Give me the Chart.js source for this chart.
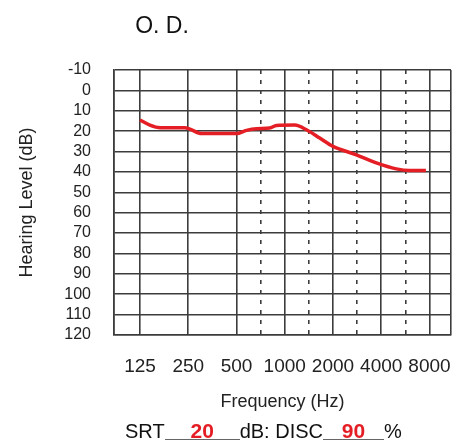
<!DOCTYPE html>
<html>
<head>
<meta charset="utf-8">
<script src="https://cdn.jsdelivr.net/npm/chart.js@4"></script>
<style>
  body { margin: 0; background: #fff; }
  #wrap { position: relative; width: 471px; height: 448px; }
  #chart { position: absolute; left: 0; top: 0; }
  .lbl { position: absolute; font-family: 'Liberation Sans', Arial, sans-serif; color: #111; white-space: nowrap; }
  #title { left: 0; width: 324px; top: 12px; text-align: center; font-size: 23px; }
  #srt { left: 125px; top: 420px; font-size: 20px; }
  .blank { display: inline-block; text-align: center; color: #e41e24; font-weight: bold; font-size: 21px;
           border-bottom: 1px solid #666; line-height: 17px; }
</style>
</head>
<body>
<div id="wrap">
  <canvas id="chart" width="471" height="448"></canvas>
  <div class="lbl" id="title">O. D.</div>
  <div class="lbl" id="srt"></div>
</div>
<script>
// 청력 데이터 (주파수 Hz / 청력 dB)
var freqs = [125, 144, 167, 238, 256, 303, 500, 577, 667, 806, 888, 1155, 1365, 1653, 2000, 2797, 3728, 4966, 6000, 7600];
var levels = [14.5, 17, 18.3, 18.3, 19, 21.2, 21.2, 19.6, 18.8, 18.5, 17.2, 17, 19.3, 23.4, 27.5, 31.6, 35.6, 38.5, 39.3, 39.3];

// 축 눈금
var octaveTicks = [125, 250, 500, 1000, 2000, 4000, 8000];
var halfTicks = [707, 1414, 2828, 5657];
var xMin = 86, xMax = 10900;
var yMin = -10, yMax = 120;

var srtValue = '20';
var discValue = '90';

document.getElementById('srt').innerHTML = 'SRT<span class="blank" style="width:75px">' + srtValue +
    '</span>dB: DISC<span class="blank" style="width:61px">' + discValue + '</span>%';

var font = "'Liberation Sans', Arial, sans-serif";
var gridColor = '#3c3c3c';

var points = freqs.map(function (f, i) { return { x: f, y: levels[i] }; });

var ctx = document.getElementById('chart').getContext('2d');
var chart = new Chart(ctx, {
    type: 'line',
    data: {
        datasets: [{
            data: points,
            borderColor: 'rgb(228, 30, 36)',
            borderWidth: 3.5,
            pointRadius: 0,
            cubicInterpolationMode: 'monotone',
            fill: false
        }]
    },
    options: {
        responsive: false,
        animation: false,
        layout: { padding: { top: 70, right: 19, left: 16, bottom: 31 } },
        plugins: { legend: { display: false }, tooltip: { enabled: false } },
        scales: {
            x: {
                type: 'logarithmic',
                min: xMin,
                max: xMax,
                afterBuildTicks: function (scale) {
                    var all = [xMin].concat(octaveTicks, halfTicks, [xMax]).sort(function (a, b) { return a - b; });
                    scale.ticks = all.map(function (v) { return { value: v }; });
                },
                afterFit: function (scale) { scale.height = 448 - 335 - 31; },
                grid: { color: gridColor, lineWidth: 1.6, drawTicks: false },
                border: {
                    color: gridColor, width: 1.6,
                    dash: function (c) {
                        return (c.tick && halfTicks.indexOf(c.tick.value) >= 0) ? [4, 6] : [];
                    }
                },
                ticks: {
                    autoSkip: false, maxRotation: 0, padding: 20,
                    color: '#222', font: { family: font, size: 19 },
                    callback: function (v) { return octaveTicks.indexOf(v) >= 0 ? String(v) : ''; }
                },
                title: { display: true, text: 'Frequency (Hz)', color: '#222', font: { family: font, size: 18 } }
            },
            y: {
                reverse: true,
                min: yMin,
                max: yMax,
                afterFit: function (scale) { scale.width = 114 - 16; },
                grid: { color: gridColor, lineWidth: 1.6, drawTicks: false },
                border: { color: gridColor, width: 1.6 },
                ticks: { stepSize: 10, autoSkip: false, padding: 23, color: '#222', font: { family: font, size: 16 } },
                title: { display: true, text: 'Hearing Level (dB)', color: '#222', padding: 0, font: { family: font, size: 18 } }
            }
        }
    }
});
</script>
</body>
</html>
